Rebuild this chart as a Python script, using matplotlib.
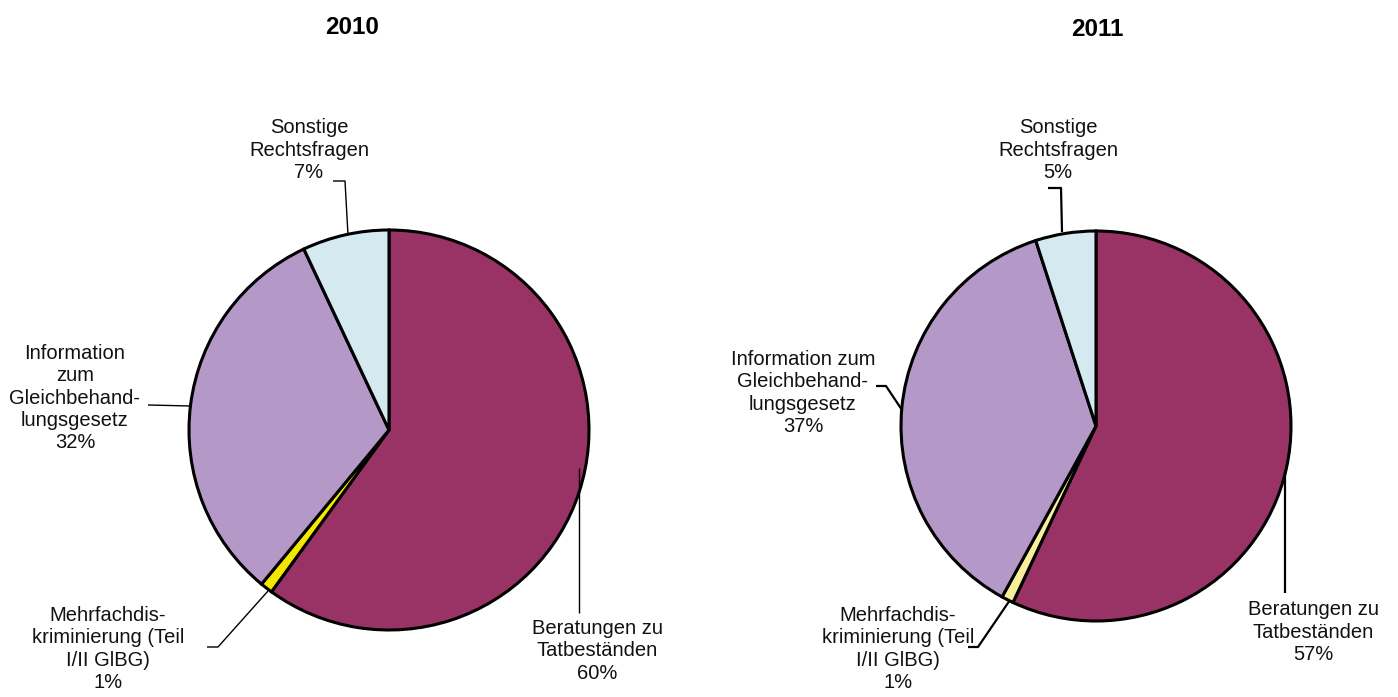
import matplotlib
matplotlib.use('Agg')
import matplotlib.pyplot as plt

plt.rcParams['font.family'] = ['Liberation Sans', 'DejaVu Sans']

W, H = 1398, 697

# data
years = ['2010', '2011']
categories = ['Beratungen zu\nTatbeständen',
              'Mehrfachdis-\nkriminierung (Teil\nI/II GlBG)',
              'Information\nzum\nGleichbehand-\nlungsgesetz',
              'Sonstige\nRechtsfragen']
categories_2011 = ['Beratungen zu\nTatbeständen',
                   'Mehrfachdis-\nkriminierung (Teil\nI/II GlBG)',
                   'Information zum\nGleichbehand-\nlungsgesetz',
                   'Sonstige\nRechtsfragen']
values_2010 = [60, 1, 32, 7]
values_2011 = [57, 1, 37, 5]

colors_2010 = ['#993366', '#F5E800', '#B499C8', '#D4E9F0']
colors_2011 = ['#993366', '#F7EF99', '#B499C8', '#D4E9F0']

# layout in pixel coords (y measured from top)
pies = [
    dict(center=(389, 430), r=200, title_xy=(352, 27), lw_lead=1.0,
         labels=categories, vals=values_2010, cols=colors_2010,
         text_xy=[(597, 651), (108, 649), (75, 398), (309, 150)],
         leaders=[[(579, 613), (579, 468)],
                  [(207, 647), (218, 647), (268, 591)],
                  [(148, 405), (191, 406)],
                  [(333, 181), (345, 181), (348, 235)]]),
    dict(center=(1096, 426), r=195, title_xy=(1097, 30), lw_lead=1.6,
         labels=categories_2011, vals=values_2011, cols=colors_2011,
         text_xy=[(1313, 632), (898, 649), (803, 393), (1058, 150)],
         leaders=[[(1285, 593), (1285, 470)],
                  [(968, 647), (978, 647), (1010, 600)],
                  [(876, 386), (886, 386), (902, 410)],
                  [(1048, 188), (1061, 188), (1062, 232)]]),
]

fig = plt.figure(figsize=(W / 100, H / 100), dpi=100)
ax = fig.add_axes([0, 0, 1, 1])

for year, p in zip(years, pies):
    cx, cy = p['center']
    ax.pie(p['vals'], colors=p['cols'], startangle=90, counterclock=False,
           center=(cx, H - cy), radius=p['r'], frame=True,
           wedgeprops=dict(edgecolor='black', linewidth=2.2))
    tx, ty = p['title_xy']
    ax.text(tx, H - ty, year, ha='center', va='center', fontsize=17.5,
            fontweight='bold')
    for lab, v, (x, y) in zip(p['labels'], p['vals'], p['text_xy']):
        ax.text(x, H - y, f'{lab}\n{v}%', ha='center', va='center',
                fontsize=14.5, linespacing=1.22, color='#111111')
    for pts in p['leaders']:
        ax.plot([q[0] for q in pts], [H - q[1] for q in pts], color='black',
                lw=p['lw_lead'], solid_capstyle='butt')

ax.set_xlim(0, W)
ax.set_ylim(0, H)
ax.set_aspect('equal')
ax.axis('off')
fig.savefig('out.png', dpi=100)
